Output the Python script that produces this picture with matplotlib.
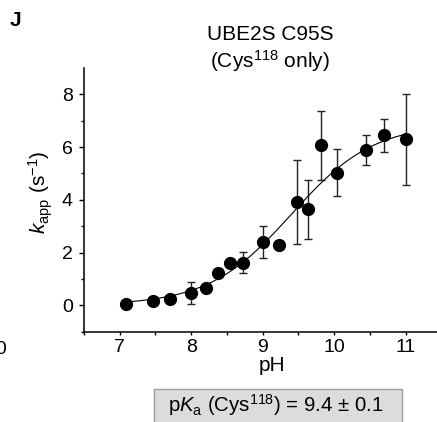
import numpy as np
import matplotlib
matplotlib.use("Agg")
import matplotlib.pyplot as plt
from matplotlib.ticker import FixedLocator
from matplotlib.patches import Rectangle

plt.rcParams['font.family'] = ['Liberation Sans', 'DejaVu Sans']
plt.rcParams['mathtext.fontset'] = 'custom'
plt.rcParams['mathtext.rm'] = 'Liberation Sans'
plt.rcParams['mathtext.it'] = 'Liberation Sans:italic'

# measured rates vs pH (UBE2S C95S, only Cys118 left)
ph = [7.09, 7.46, 7.71, 8.00, 8.20, 8.37, 8.54, 8.72, 9.00, 9.23, 9.48, 9.63, 9.82, 10.04, 10.44, 10.70, 11.00]
kapp = [0.06, 0.16, 0.23, 0.48, 0.67, 1.24, 1.61, 1.61, 2.41, 2.29, 3.92, 3.64, 6.06, 5.03, 5.88, 6.44, 6.29]
kerr = [0.0, 0.0, 0.0, 0.42, 0.0, 0.0, 0.0, 0.40, 0.61, 0.0, 1.58, 1.13, 1.29, 0.89, 0.56, 0.63, 1.73]

# titration fit
pka = 9.4
pka_err = 0.1
kmax = 6.9
hill = 0.75

fig = plt.figure(figsize=(4.37, 4.22), dpi=100)
ax = fig.add_axes([0.1922, 0.214, 0.818, 0.625])

x = np.linspace(ph[0], ph[-1], 300)
fit = kmax / (1 + 10 ** (hill * (pka - x)))
ax.plot(x, fit, color='black', lw=0.8, zorder=2)

ax.errorbar(ph, kapp, yerr=kerr, fmt='none', ecolor='#222222', elinewidth=1.0,
            capsize=3, capthick=1.0, zorder=1)
ax.plot(ph, kapp, 'o', color='black', ms=8.5, zorder=3)

ax.set_xlim(6.5, 11.5)
ax.set_ylim(-1, 9)
ax.xaxis.set_major_locator(FixedLocator([7, 8, 9, 10, 11]))
ax.xaxis.set_minor_locator(FixedLocator([6.5, 7.5, 8.5, 9.5, 10.5, 11.5]))
ax.yaxis.set_major_locator(FixedLocator([0, 2, 4, 6, 8]))
ax.yaxis.set_minor_locator(FixedLocator([-1, 1, 3, 5, 7]))
ax.tick_params(which='both', direction='out', width=1.0, labelsize=14)
ax.tick_params(axis='y', which='major', length=3.5, pad=4.5)
ax.tick_params(axis='y', which='minor', length=2.5)
ax.tick_params(axis='x', which='both', length=2.5, pad=3)
for s in ['top', 'right']:
    ax.spines[s].set_visible(False)
for s in ['left', 'bottom']:
    ax.spines[s].set_linewidth(1.1)

ax.set_xlabel('pH', fontsize=15)
ax.xaxis.set_label_coords(0.526, -0.092)
ax.set_ylabel(r'$k_{\rm app}$ (s$^{-1}$)', fontsize=15)
ax.yaxis.set_label_coords(-0.08, 0.53)

fig.text(270 / 437, 1 - 35 / 422, 'UBE2S C95S', ha='center', va='center', fontsize=15)
fig.text(270 / 437, 1 - 61 / 422, r'(Cys$^{118}$ only)', ha='center', va='center', fontsize=15)
fig.text(15 / 437, 1 - 21 / 422, 'J', ha='center', va='center', fontsize=15, fontweight='bold')

# neighbouring panel's tick label, cut by the edge
fig.text(7 / 437, 1 - 350 / 422, '10', ha='right', va='center', fontsize=14)

box = Rectangle((154 / 437, -0.01), (402 - 154) / 437, (422 - 389) / 422 + 0.01,
                transform=fig.transFigure, facecolor='#dcdcdc', edgecolor='#9a9a9a', lw=1.0)
fig.add_artist(box)
fig.text(276 / 437, 1 - 405 / 422,
         r'p$K_{\rm a}$ (Cys$^{118}$) = %.1f ± %.1f' % (pka, pka_err),
         ha='center', va='center', fontsize=14.7)

fig.savefig('out.png', dpi=100)
